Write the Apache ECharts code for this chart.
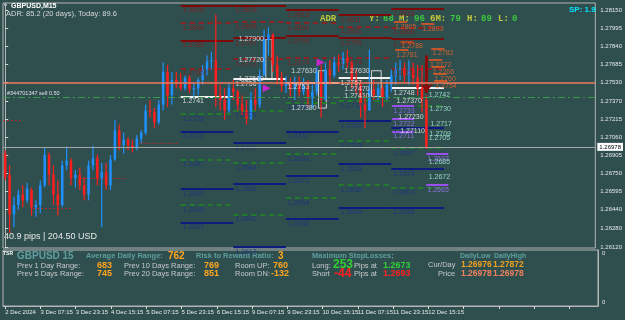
<!DOCTYPE html>
<html>
<head>
<meta charset="utf-8">
<title>GBPUSD M15</title>
<script src="https://cdn.jsdelivr.net/npm/echarts@6/dist/echarts.min.js"></script>
<style>
  html, body { margin: 0; padding: 0; background: #2f4f4f; }
  #chart { width: 625px; height: 320px; }
</style>
</head>
<body>
<div id="chart"></div>
<script>
// one label every 8 slots, a slot is 2 hours of M15 bars
const timeLabels = ['2 Dec 2024', '3 Dec 07:15', '3 Dec 23:15', '4 Dec 15:15', '5 Dec 07:15', '5 Dec 23:15',
  '6 Dec 15:15', '9 Dec 07:15', '9 Dec 23:15', '10 Dec 15:15', '11 Dec 07:15', '11 Dec 23:15', '12 Dec 15:15'];
const slotCount = 135;

// 2h candles
const opens = [1.2692, 1.2674, 1.2640, 1.2648, 1.2657, 1.2652, 1.2661, 1.2646, 1.2648, 1.2665,
  1.2691, 1.2674, 1.2657, 1.2648, 1.2682, 1.2686, 1.2671, 1.2674, 1.2665, 1.2657,
  1.2682, 1.2688, 1.2671, 1.2676, 1.2665, 1.2687, 1.2712, 1.2699, 1.2704, 1.2699,
  1.2697, 1.2705, 1.2710, 1.2729, 1.2728, 1.2719, 1.2734, 1.2762, 1.2742, 1.2755,
  1.2753, 1.2748, 1.2757, 1.2747, 1.2748, 1.2755, 1.2764, 1.2771, 1.2772, 1.2742,
  1.2738, 1.2729, 1.2748, 1.2745, 1.2734, 1.2729, 1.2722, 1.2738, 1.2734, 1.2759,
  1.2789, 1.2794, 1.2768, 1.2757, 1.2750, 1.2752, 1.2747, 1.2751, 1.2745, 1.2750,
  1.2740, 1.2745, 1.2762, 1.2738, 1.2764, 1.2759, 1.2770, 1.2768, 1.2774, 1.2770,
  1.2755, 1.2751, 1.2734, 1.2729, 1.2747, 1.2742, 1.2748, 1.2740, 1.2751, 1.2759,
  1.2764, 1.2765, 1.2759, 1.2764, 1.2757, 1.2748, 1.2738];
const closes = [1.2672, 1.2640, 1.2648, 1.2657, 1.2652, 1.2662, 1.2646, 1.2648, 1.2665, 1.2691,
  1.2674, 1.2657, 1.2648, 1.2682, 1.2686, 1.2671, 1.2674, 1.2665, 1.2657, 1.2682,
  1.2688, 1.2671, 1.2676, 1.2665, 1.2687, 1.2712, 1.2699, 1.2704, 1.2699, 1.2697,
  1.2705, 1.2710, 1.2729, 1.2728, 1.2719, 1.2734, 1.2762, 1.2742, 1.2755, 1.2753,
  1.2748, 1.2757, 1.2747, 1.2748, 1.2755, 1.2764, 1.2771, 1.2772, 1.2742, 1.2738,
  1.2729, 1.2748, 1.2745, 1.2734, 1.2729, 1.2722, 1.2738, 1.2734, 1.2759, 1.2789,
  1.2794, 1.2768, 1.2757, 1.2750, 1.2752, 1.2747, 1.2751, 1.2745, 1.2750, 1.2740,
  1.2745, 1.2762, 1.2738, 1.2764, 1.2759, 1.2770, 1.2768, 1.2774, 1.2770, 1.2755,
  1.2751, 1.2734, 1.2729, 1.2747, 1.2742, 1.2748, 1.2740, 1.2751, 1.2759, 1.2764,
  1.2765, 1.2759, 1.2764, 1.2757, 1.2748, 1.2738, 1.26978];
const lows = [1.2669, 1.2624, 1.2629, 1.2644, 1.2646, 1.2650, 1.2639, 1.2638, 1.2641, 1.2663,
  1.2665, 1.2648, 1.2639, 1.2646, 1.2678, 1.2665, 1.2663, 1.2661, 1.2652, 1.2652,
  1.2678, 1.2665, 1.2629, 1.2661, 1.2661, 1.2686, 1.2695, 1.2692, 1.2695, 1.2693,
  1.2695, 1.2701, 1.2708, 1.2723, 1.2714, 1.2717, 1.2729, 1.2732, 1.2734, 1.2748,
  1.2746, 1.2746, 1.2744, 1.2741, 1.2742, 1.2751, 1.2759, 1.2764, 1.2732, 1.2729,
  1.2721, 1.2727, 1.2738, 1.2729, 1.2725, 1.2717, 1.2721, 1.2729, 1.2731, 1.2759,
  1.2776, 1.2762, 1.2751, 1.2745, 1.2744, 1.2741, 1.2738, 1.2741, 1.2742, 1.2732,
  1.2731, 1.2742, 1.2723, 1.2738, 1.2751, 1.2757, 1.2762, 1.2764, 1.2765, 1.2748,
  1.2744, 1.2723, 1.2714, 1.2729, 1.2738, 1.2738, 1.2732, 1.2738, 1.2745, 1.2751,
  1.2755, 1.2753, 1.2751, 1.2751, 1.2742, 1.2727, 1.2696];
const highs = [1.2695, 1.2682, 1.2655, 1.2661, 1.2665, 1.2667, 1.2663, 1.2652, 1.2669, 1.2697,
  1.2693, 1.2682, 1.2669, 1.2686, 1.2698, 1.2688, 1.2678, 1.2680, 1.2672, 1.2686,
  1.2699, 1.2691, 1.2684, 1.2684, 1.2691, 1.2721, 1.2717, 1.2710, 1.2706, 1.2704,
  1.2708, 1.2712, 1.2734, 1.2738, 1.2731, 1.2738, 1.2770, 1.2768, 1.2762, 1.2762,
  1.2761, 1.2759, 1.2759, 1.2753, 1.2757, 1.2768, 1.2776, 1.2779, 1.2811, 1.2751,
  1.2748, 1.2753, 1.2755, 1.2747, 1.2742, 1.2738, 1.2745, 1.2748, 1.2764, 1.2798,
  1.2800, 1.2795, 1.2776, 1.2762, 1.2758, 1.2757, 1.2758, 1.2758, 1.2757, 1.2755,
  1.2751, 1.2766, 1.2768, 1.2770, 1.2772, 1.2775, 1.2777, 1.2779, 1.2781, 1.2772,
  1.2764, 1.2755, 1.2742, 1.2781, 1.2755, 1.2753, 1.2751, 1.2755, 1.2764, 1.2770,
  1.2772, 1.2770, 1.2772, 1.2770, 1.2768, 1.2768, 1.2742];

const bidPrice = 1.26978;
const alertLevel = 1.2753;
const orderLevel = 1.27405;

const priceTicks = [1.28150, 1.27995, 1.27840, 1.27685, 1.27530, 1.27370, 1.27215,
  1.27060, 1.26905, 1.26750, 1.26595, 1.26440, 1.26280, 1.26120];

// daily pivot sets: 6, 9, 10, 11, 12 Dec (slot where each day starts)
const dayStarts = [40, 52, 64, 76, 88];
const dayLevels = [
  [1.2819, 1.2804, 1.2789, 1.2765, 1.2741, 1.2726, 1.2711, 1.2687, 1.2662, 1.2648, 1.2633],
  [1.2819, 1.2805, 1.2791, 1.2773, 1.2756, 1.2729, 1.2701, 1.2684, 1.2666, 1.2640, 1.2612],
  [1.2815, 1.2804, 1.2793, 1.2774, 1.2753, 1.2736, 1.2711, 1.2692, 1.2673, 1.2654, 1.2636],
  [1.2811, 1.2801, 1.2791, 1.2774, 1.2757, 1.2737, 1.2720, 1.2703, 1.2683, 1.2665, 1.2646],
  [1.2816, 1.2800, 1.2790, 1.2765, 1.2748, 1.2733, 1.2714, 1.2697, 1.2679, 1.2663, 1.2646]
];
const levelKinds = ['R', 'r', 'R', 'r', 'P', 's', 'S', 's', 'S', 's', 'S'];

// dotted previous-close segments [from, to, price]
const prevCloseSegs = [[-0.5, 3.8, 1.2721], [6.3, 15.4, 1.2645], [17.4, 27.6, 1.2671], [30.6, 39.7, 1.2701]];

// range boxes [x0, x1, low, high] and their price tags
const boxes = [[59.4, 60.8, 1.2756, 1.2790], [71.4, 73.2, 1.2731, 1.2763], [83.5, 85.7, 1.2741, 1.2763]];
const boxTags = [[59.2, 1.2790, '1.27900'], [59.2, 1.2772, '1.27720'], [59.2, 1.2756, '1.27560'],
  [71.2, 1.2763, '1.27630'], [71.2, 1.2731, '1.27380'],
  [83.3, 1.2763, '1.27630'], [83.3, 1.2747, '1.27470'], [83.3, 1.2741, '1.27410'],
  [95.2, 1.2737, '1.27370'], [95.6, 1.2723, '1.27230'], [95.9, 1.2711, '1.27110']];

const orangeTags = [[88.6, 1.2805], [94.8, 1.2803], [90.1, 1.2788], [88.9, 1.2781], [97.1, 1.2782],
  [96.6, 1.2772], [97.2, 1.2766], [97.6, 1.2760], [97.8, 1.2754]];
const cyanTags = [[96.3, 1.2742], [96.5, 1.2730], [96.7, 1.2717], [96.5, 1.2709], [96.3, 1.2705],
  [96.3, 1.2685], [96.3, 1.2672]];
const violetTags = [[88.2, 1.2733], [88.2, 1.2722], [88.2, 1.2711], [96.0, 1.2692], [96.0, 1.2665]];

const flagMarks = [[59.6, 1.2748], [71.9, 1.2770]];
const arrowMark = [96.0, 1.2776, 1.2744];

const kindStyle = {
  R: { color: '#7d0a0a', width: 2, type: 'solid', text: '#8e1616' },
  r: { color: '#a81414', width: 1.5, type: [5, 4], text: '#8e1616' },
  P: { color: '#f2f2f2', width: 2, type: 'solid', text: '#f2f2f2' },
  s: { color: '#1f8a1f', width: 1.5, type: [5, 4], text: '#1c2f86' },
  S: { color: '#0d1a80', width: 2, type: 'solid', text: '#1c2f86' }
};

const font = 'Liberation Sans';
const upColor = '#1e90ff';
const downColor = '#ff1e1e';
const chart = echarts.init(document.getElementById('chart'));

const candleData = opens.map((o, i) => [i, o, closes[i], lows[i], highs[i]]);
const slotNames = Array.from({ length: slotCount }, (_, i) => (i % 8 === 0 && timeLabels[i / 8]) || '');

let segs = [];
let tags = [];
dayStarts.forEach((x0, d) => {
  dayLevels[d].forEach((v, k) => {
    let st = kindStyle[levelKinds[k]];
    segs.push({ coords: [[x0, v], [x0 + 12, v]], lineStyle: { color: st.color, width: st.width, type: st.type } });
    tags.push({ name: v.toFixed(4), value: [x0 + 0.2, v], label: { color: st.text } });
  });
});
prevCloseSegs.forEach(s => {
  segs.push({ coords: [[s[0], s[2]], [s[1], s[2]]], lineStyle: { color: '#b02a2a', width: 1, type: [2, 2] } });
});
orangeTags.forEach(t => {
  segs.push({ coords: [[t[0], t[1]], [t[0] + 3, t[1]]], lineStyle: { color: '#f05a1e', width: 1.5, type: 'solid' } });
  tags.push({ name: t[1].toFixed(4), value: [t[0], t[1]], label: { color: '#f0642a' } });
});
violetTags.forEach(t => {
  segs.push({ coords: [[t[0], t[1]], [t[0] + 5, t[1]]], lineStyle: { color: '#9a50f0', width: 2, type: 'solid' } });
  tags.push({ name: t[1].toFixed(4), value: [t[0], t[1]], label: { color: '#a878ff' } });
});
cyanTags.forEach(t => {
  tags.push({ name: t[1].toFixed(4), value: [t[0], t[1]], label: { color: '#a8f0dc', offset: [0, 0] } });
});
boxTags.forEach(t => {
  tags.push({ name: t[2], value: [t[0], t[1]], label: { color: '#f4f4f4', position: 'left', offset: [0, 0] } });
});

// bar = wick from low to high + thin body from open to close
function renderCandle (params, api) {
  let x = api.value(0);
  let o = api.value(1);
  let c = api.value(2);
  let hi = api.coord([x, api.value(4)]);
  let lo = api.coord([x, api.value(3)]);
  let po = api.coord([x, o]);
  let pc = api.coord([x, c]);
  let col = c >= o ? upColor : downColor;
  return {
    type: 'group',
    children: [
      { type: 'line', shape: { x1: hi[0], y1: hi[1], x2: lo[0], y2: lo[1] }, style: { stroke: col, lineWidth: 1.2 } },
      {
        type: 'rect',
        shape: { x: po[0] - 1.25, y: Math.min(po[1], pc[1]), width: 2.5, height: Math.max(1, Math.abs(po[1] - pc[1])) },
        style: { fill: col }
      }
    ]
  };
}

function txt (x, y, text, fill, f) {
  return { type: 'text', x: x, y: y, silent: true, style: { text: text, fill: fill, font: f, verticalAlign: 'middle' } };
}

const cadet = '#5f9ea0';
const gray = '#c8c8c8';
const orange = '#ffa51e';
const adrY = '#c3c83a';
const adrG = '#3cc83c';
const mono = 'bold 9px "Liberation Mono"';

const option = {
  backgroundColor: '#2f4f4f',
  animation: false,
  grid: [
    { left: 3, right: 27, top: 3, height: 245, show: true, borderColor: '#b4b4b4', borderWidth: 1 },
    { left: 3, right: 27, top: 250, height: 56, show: true, borderColor: '#b4b4b4', borderWidth: 1 }
  ],
  xAxis: [
    { type: 'value', gridIndex: 0, min: -0.5, max: slotCount - 0.5, show: false },
    {
      type: 'category', gridIndex: 1, data: slotNames,
      axisLine: { lineStyle: { color: '#b4b4b4' } },
      axisTick: { show: true, interval: 7, alignWithLabel: true, length: 3, lineStyle: { color: '#d8d8d8' } },
      axisLabel: { interval: 7, align: 'left', color: '#e8e8e8', fontSize: 6, fontFamily: font, margin: 3 },
      splitLine: { show: false }
    }
  ],
  yAxis: [
    {
      type: 'value', gridIndex: 0, position: 'right', min: 1.26112, max: 1.28210,
      axisLine: { show: true, lineStyle: { color: '#b4b4b4' } },
      axisTick: { show: true, customValues: priceTicks, length: 3, lineStyle: { color: '#d8d8d8' } },
      axisLabel: { customValues: priceTicks, formatter: v => v.toFixed(5), color: '#e8e8e8', fontSize: 6, fontFamily: font, margin: 5 },
      splitLine: { show: false }
    },
    {
      type: 'value', gridIndex: 1, position: 'right', min: 0, max: 1,
      axisLine: { show: true, lineStyle: { color: '#b4b4b4' } },
      axisTick: { show: false },
      axisLabel: { customValues: [0.06, 0.94], formatter: () => '0', color: '#e8e8e8', fontSize: 6, fontFamily: font, margin: 4 },
      splitLine: { show: false }
    }
  ],
  series: [
    {
      type: 'lines', coordinateSystem: 'cartesian2d', xAxisIndex: 0, yAxisIndex: 0,
      silent: true, lineStyle: { opacity: 1 }, data: segs
    },
    {
      type: 'custom', xAxisIndex: 0, yAxisIndex: 0, silent: true,
      renderItem: renderCandle,
      encode: { x: 0, y: [1, 2, 3, 4] },
      data: candleData
    },
    {
      type: 'scatter', xAxisIndex: 0, yAxisIndex: 0, symbolSize: 0, silent: true,
      itemStyle: { color: 'transparent' },
      label: { show: true, formatter: '{b}', fontSize: 7, fontFamily: font, position: 'right', distance: 1, offset: [0, 5] },
      data: tags,
      markArea: {
        silent: true,
        itemStyle: { color: 'rgba(0,0,0,0)', borderColor: '#d4d4d4', borderWidth: 1 },
        data: boxes.map(b => [{ coord: [b[0], b[2]] }, { coord: [b[1], b[3]] }])
      },
      markLine: {
        silent: true, symbol: 'none', precision: 5,
        data: [
          { yAxis: alertLevel, lineStyle: { color: '#f07a5c', width: 1.5, type: 'solid' }, label: { show: false } },
          { yAxis: orderLevel, lineStyle: { color: '#3a9a4e', width: 1, type: [7, 3, 2, 3] }, label: { show: false } },
          {
            yAxis: bidPrice, lineStyle: { color: '#a6a6a6', width: 1, type: 'solid' },
            label: { show: true, position: 'end', formatter: bidPrice.toFixed(5), backgroundColor: '#ffffff', color: '#000000', fontSize: 6, fontFamily: font, padding: [1, 2], distance: 2 }
          }
        ]
      }
    },
    {
      type: 'scatter', xAxisIndex: 0, yAxisIndex: 0, symbol: 'triangle', symbolRotate: -90, symbolSize: 8,
      silent: true, itemStyle: { color: '#e81ce8' }, data: flagMarks
    },
    {
      type: 'lines', coordinateSystem: 'cartesian2d', xAxisIndex: 0, yAxisIndex: 0, silent: true,
      symbol: ['none', 'arrow'], symbolSize: 9,
      lineStyle: { color: '#8b0a0a', width: 3, opacity: 1 },
      data: [{ coords: [[arrowMark[0], arrowMark[1]], [arrowMark[0], arrowMark[2]]] }]
    }
  ],
  graphic: [
    txt(3, 6, '\u25BC', '#ffffff', '5px ' + font),
    txt(11, 6, 'GBPUSD,M15', '#ffffff', 'bold 7px ' + font),
    txt(6, 14, 'ADR: 85.2 (20 days), Today: 89.6', '#d8d8d8', '7.5px ' + font),
    txt(320, 19, 'ADR', adrY, mono),
    txt(369, 19, 'Y:', adrY, mono),
    txt(383, 19, '68', adrG, mono),
    txt(399, 19, 'M:', adrY, mono),
    txt(414, 19, '96', adrG, mono),
    txt(430, 19, '6M:', adrY, mono),
    txt(450, 19, '79', adrG, mono),
    txt(467, 19, 'H:', adrY, mono),
    txt(481, 19, '89', adrG, mono),
    txt(498, 19, 'L:', adrY, mono),
    txt(512, 19, '0', adrG, mono),
    txt(569, 10, 'SP: 1.9', '#00e5ff', 'bold 8px ' + font),
    txt(7, 93, '#344701347 sell 0.50', '#e0e0e0', '5.5px ' + font),
    txt(4, 237, '40.9 pips | 204.50 USD', '#e8e8e8', '9px ' + font),

    txt(3, 254, 'TSR', '#ffffff', 'bold 5px ' + font),
    txt(17, 256, 'GBPUSD 15', cadet, 'bold 10px ' + font),
    txt(86, 256, 'Average Daily Range:', cadet, 'bold 7.5px ' + font),
    txt(168, 256, '762', orange, 'bold 10px ' + font),
    txt(196, 256, 'Risk to Reward Ratio:', cadet, 'bold 7.5px ' + font),
    txt(278, 256, '3', orange, 'bold 10px ' + font),
    txt(17, 266, 'Prev 1 Day Range:', gray, '7.5px ' + font),
    txt(97, 266, '683', orange, 'bold 9px ' + font),
    txt(17, 274, 'Prev 5 Days Range:', gray, '7.5px ' + font),
    txt(97, 274, '745', orange, 'bold 9px ' + font),
    txt(124, 266, 'Prev 10 Days Range:', gray, '7.5px ' + font),
    txt(204, 266, '769', orange, 'bold 9px ' + font),
    txt(124, 274, 'Prev 20 Days Range:', gray, '7.5px ' + font),
    txt(204, 274, '851', orange, 'bold 9px ' + font),
    txt(235, 266, 'Room UP:', gray, '7.5px ' + font),
    txt(273, 266, '760', orange, 'bold 9px ' + font),
    txt(235, 274, 'Room DN:', gray, '7.5px ' + font),
    txt(271, 274, '-132', orange, 'bold 9px ' + font),
    txt(312, 256, 'Maximum StopLosses;', cadet, 'bold 7.5px ' + font),
    txt(312, 266, 'Long:', gray, '7.5px ' + font),
    txt(333, 265, '253', '#32cd32', 'bold 12px ' + font),
    txt(354, 266, 'Pips at', gray, '7.5px ' + font),
    txt(383, 266, '1.2673', '#32cd32', 'bold 9px ' + font),
    txt(312, 274, 'Short', gray, '7.5px ' + font),
    txt(334, 274, '-44', '#ff2020', 'bold 12px ' + font),
    txt(354, 274, 'Pips at', gray, '7.5px ' + font),
    txt(383, 274, '1.2693', '#ff2020', 'bold 9px ' + font),
    txt(460, 256, 'DailyLow', cadet, 'bold 7px ' + font),
    txt(494, 256, 'DailyHigh', cadet, 'bold 7px ' + font),
    txt(428, 265, 'Cur/Day', gray, '7.5px ' + font),
    txt(461, 265, '1.26976', '#f0a020', 'bold 8.5px ' + font),
    txt(493, 265, '1.27872', '#f0a020', 'bold 8.5px ' + font),
    txt(438, 274, 'Price', gray, '7.5px ' + font),
    txt(461, 274, '1.26978', '#f08060', 'bold 8.5px ' + font),
    txt(493, 274, '1.26978', '#f08060', 'bold 8.5px ' + font)
  ]
};

chart.setOption(option);
</script>
</body>
</html>
